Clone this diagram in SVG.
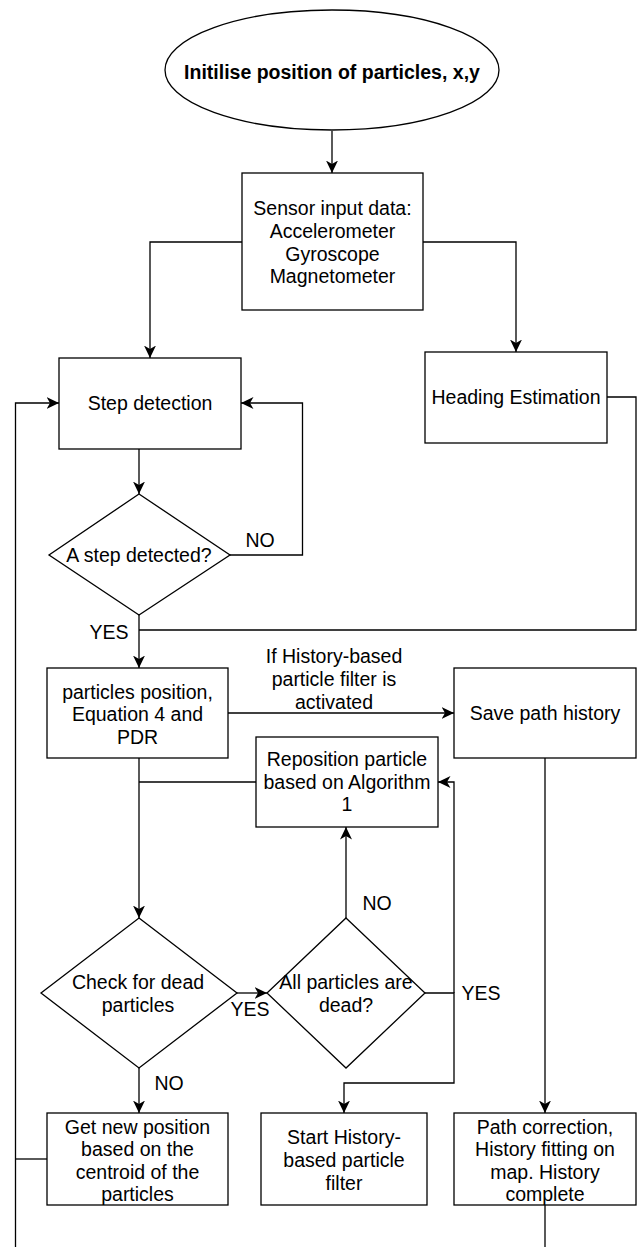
<svg xmlns="http://www.w3.org/2000/svg" width="638" height="1247" viewBox="0 0 638 1247">
<style>
.s{fill:#fff;stroke:#000;stroke-width:1.3}
.c{fill:none;stroke:#000;stroke-width:1.3}
text{font-family:"Liberation Sans",Arial,sans-serif;font-size:19.5px;fill:#000;text-anchor:middle}
.b{font-weight:bold}
</style>
<defs>
<marker id="a" markerUnits="userSpaceOnUse" markerWidth="13" markerHeight="12" refX="12.5" refY="6" orient="auto">
<path d="M0,0 L12.5,6 L0,12 L3.5,6 Z" fill="#000"/>
</marker>
</defs>
<g id="connectors">
<path class="c" d="M332,131 V173" marker-end="url(#a)"/>
<path class="c" d="M242,242 H150 V358" marker-end="url(#a)"/>
<path class="c" d="M423,242 H516 V352" marker-end="url(#a)"/>
<path class="c" d="M139,449 V494" marker-end="url(#a)"/>
<path class="c" d="M230,555 H302.5 V403 H241" marker-end="url(#a)"/>
<path class="c" d="M607,397 H636 V630 H139"/>
<path class="c" d="M139,615 V668" marker-end="url(#a)"/>
<path class="c" d="M228,713 H454" marker-end="url(#a)"/>
<path class="c" d="M139,758 V918" marker-end="url(#a)"/>
<path class="c" d="M256,782 H139"/>
<path class="c" d="M346,918 V827" marker-end="url(#a)"/>
<path class="c" d="M425,993 H454 V1083 H344 V1113" marker-end="url(#a)"/>
<path class="c" d="M454,993 V782 H438" marker-end="url(#a)"/>
<path class="c" d="M237,993 H267" marker-end="url(#a)"/>
<path class="c" d="M139,1068 V1113" marker-end="url(#a)"/>
<path class="c" d="M545,758 V1113" marker-end="url(#a)"/>
<path class="c" d="M545,1205 V1247"/>
<path class="c" d="M47,1159 H15.5"/>
<path class="c" d="M15.5,1247 V403 H59" marker-end="url(#a)"/>
<text x="260" y="547">NO</text>
<text x="109" y="639">YES</text>
<text x="334" y="663">If History-based</text>
<text x="334" y="686">particle filter is</text>
<text x="334" y="709">activated</text>
<text x="377" y="910">NO</text>
<text x="250" y="1016">YES</text>
<text x="481" y="1000">YES</text>
<text x="169" y="1090">NO</text>
</g>
<g id="start">
<ellipse class="s" cx="332" cy="70" rx="167" ry="60"/>
<text class="b" x="332" y="79">Initilise position of particles, x,y</text>
</g>
<g id="sensor">
<rect class="s" x="242" y="173" width="181" height="137"/>
<text x="332.5" y="215">Sensor input data:</text>
<text x="332.5" y="238">Accelerometer</text>
<text x="332.5" y="261">Gyroscope</text>
<text x="332.5" y="283">Magnetometer</text>
</g>
<g id="step">
<rect class="s" x="59" y="358" width="182" height="91"/>
<text x="150" y="410">Step detection</text>
</g>
<g id="heading">
<rect class="s" x="425" y="352" width="182" height="91"/>
<text x="516" y="404">Heading Estimation</text>
</g>
<g id="stepq">
<polygon class="s" points="139,494 230,555 139,615 49,555"/>
<text x="139" y="562">A step detected?</text>
</g>
<g id="particles">
<rect class="s" x="47" y="668" width="181" height="90"/>
<text x="137.5" y="699">particles position,</text>
<text x="137.5" y="721">Equation 4 and</text>
<text x="137.5" y="744">PDR</text>
</g>
<g id="save">
<rect class="s" x="454" y="668" width="182" height="90"/>
<text x="545" y="720">Save path history</text>
</g>
<g id="reposition">
<rect class="s" x="256" y="737" width="182" height="90"/>
<text x="347" y="766">Reposition particle</text>
<text x="347" y="789">based on Algorithm</text>
<text x="347" y="811">1</text>
</g>
<g id="check">
<polygon class="s" points="139,918 237,993 139,1068 41,993"/>
<text x="138" y="989">Check for dead</text>
<text x="138" y="1012">particles</text>
</g>
<g id="alldead">
<polygon class="s" points="346,918 425,993 346,1068 267,993"/>
<text x="346" y="989">All particles are</text>
<text x="346" y="1012">dead?</text>
</g>
<g id="getnew">
<rect class="s" x="47" y="1113" width="181" height="92"/>
<text x="137.5" y="1134">Get new position</text>
<text x="137.5" y="1156">based on the</text>
<text x="137.5" y="1179">centroid of the</text>
<text x="137.5" y="1201">particles</text>
</g>
<g id="starthist">
<rect class="s" x="261" y="1113" width="166" height="92"/>
<text x="344" y="1144">Start History-</text>
<text x="344" y="1167">based particle</text>
<text x="344" y="1190">filter</text>
</g>
<g id="pathcorr">
<rect class="s" x="454" y="1113" width="182" height="92"/>
<text x="545" y="1134">Path correction,</text>
<text x="545" y="1156">History fitting on</text>
<text x="545" y="1179">map. History</text>
<text x="545" y="1201">complete</text>
</g>
</svg>
